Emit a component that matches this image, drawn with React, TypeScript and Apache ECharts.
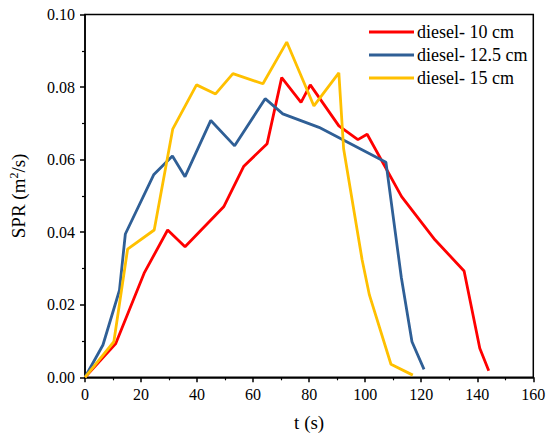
import React, { useEffect, useRef } from "react";
import * as echarts from "echarts";

const seriesNames = ["diesel- 10 cm", "diesel- 12.5 cm", "diesel- 15 cm"];
const seriesColors = ["#ff0000", "#2f5f96", "#ffc000"];

const tRed = [0, 10.9, 21.1, 29.5, 35.7, 49.5, 56.6, 65, 70.2, 77.1, 80.4, 90.6, 97.4, 100.7, 113, 124.9, 135.3, 140.9, 144.1];
const vRed = [0, 0.0092, 0.0287, 0.0406, 0.036, 0.047, 0.0581, 0.0644, 0.0826, 0.0758, 0.0806, 0.0693, 0.0655, 0.067, 0.0498, 0.0379, 0.0293, 0.008, 0.0018];

const tBlue = [0, 6.4, 12.3, 14.4, 24.5, 31.2, 35.7, 44.9, 53.4, 64.3, 70.6, 83.5, 107.4, 112.9, 116.7, 121];
const vBlue = [0, 0.0089, 0.024, 0.0395, 0.0558, 0.061, 0.0553, 0.0708, 0.0638, 0.0768, 0.0726, 0.0689, 0.0593, 0.0275, 0.0098, 0.0022];

const tYellow = [0, 10.3, 15.2, 24.7, 31.3, 39.8, 46.6, 52.8, 63.5, 72, 81.7, 90.6, 92.3, 98.9, 101.5, 109.2, 117];
const vYellow = [0, 0.0098, 0.0353, 0.0406, 0.0684, 0.0806, 0.0781, 0.0837, 0.0809, 0.0924, 0.0748, 0.0839, 0.063, 0.0324, 0.0227, 0.0036, 0.0006];

const xMin = 0, xMax = 160, xStep = 20;
const yMin = 0, yMax = 0.1, yStep = 0.02;

const FONT = "'Liberation Serif', 'Times New Roman', Times, serif";

export default function App() {
  const ref = useRef<HTMLDivElement>(null);
  useEffect(() => {
    if (!ref.current) return;
    const chart = echarts.init(ref.current, undefined, { renderer: "svg" });
    const zip = (t: number[], v: number[]) => t.map((x, i) => [x, v[i]]);
    const data = [zip(tRed, vRed), zip(tBlue, vBlue), zip(tYellow, vYellow)];
    chart.setOption({
      animation: false,
      backgroundColor: "#ffffff",
      textStyle: { fontFamily: FONT, color: "#000" },
      grid: {
        left: 82.7,
        right: 16.7,
        top: 14.5,
        bottom: 61.7,
        show: true,
        borderColor: "#000",
        borderWidth: 1.5,
      },
      legend: {
        orient: "vertical",
        left: 364,
        top: 17,
        icon: "rect",
        itemWidth: 45,
        itemHeight: 3,
        itemGap: 3,
        data: seriesNames,
        textStyle: { fontFamily: FONT, fontSize: 18, color: "#000", lineHeight: 20, padding: [0, 0, 0, -2] },
      },
      xAxis: {
        type: "value",
        min: xMin,
        max: xMax,
        interval: xStep,
        name: "t (s)",
        nameLocation: "middle",
        nameGap: 36,
        nameTextStyle: { fontFamily: FONT, fontSize: 19, color: "#000" },
        axisLine: { show: true, onZero: false, lineStyle: { color: "#000", width: 1.5 } },
        axisTick: { show: true, inside: false, length: 5, lineStyle: { color: "#000", width: 1.5 } },
        minorTick: { show: true, splitNumber: 2, length: 3, lineStyle: { color: "#000", width: 1.2 } },
        splitLine: { show: false },
        axisLabel: { fontFamily: FONT, fontSize: 16, color: "#000", margin: 9 },
      },
      yAxis: {
        type: "value",
        min: yMin,
        max: yMax,
        interval: yStep,
        name: "SPR (m{sup|2}/s)",
        nameLocation: "middle",
        nameGap: 56,
        nameTextStyle: {
          fontFamily: FONT,
          fontSize: 19,
          color: "#000",
          rich: {
            sup: { fontFamily: FONT, fontSize: 12, color: "#000", padding: [0, 0, 9, 0] },
          },
        },
        axisLine: { show: true, onZero: false, lineStyle: { color: "#000", width: 1.5 } },
        axisTick: { show: true, inside: false, length: 5, lineStyle: { color: "#000", width: 1.5 } },
        minorTick: { show: true, splitNumber: 2, length: 3, lineStyle: { color: "#000", width: 1.2 } },
        splitLine: { show: false },
        axisLabel: {
          fontFamily: FONT,
          fontSize: 16,
          color: "#000",
          margin: 10,
          formatter: (v: number) => v.toFixed(2),
        },
      },
      series: seriesNames.map((name, i) => ({
        name,
        type: "line",
        data: data[i],
        showSymbol: false,
        symbol: "none",
        color: seriesColors[i],
        lineStyle: { color: seriesColors[i], width: 2.8 },
        itemStyle: { color: seriesColors[i] },
      })),
    });
    return () => chart.dispose();
  }, []);
  return (
    <div
      ref={ref}
      style={{ position: "fixed", left: 0, top: 0, width: 550, height: 439, background: "#fff" }}
    />
  );
}
